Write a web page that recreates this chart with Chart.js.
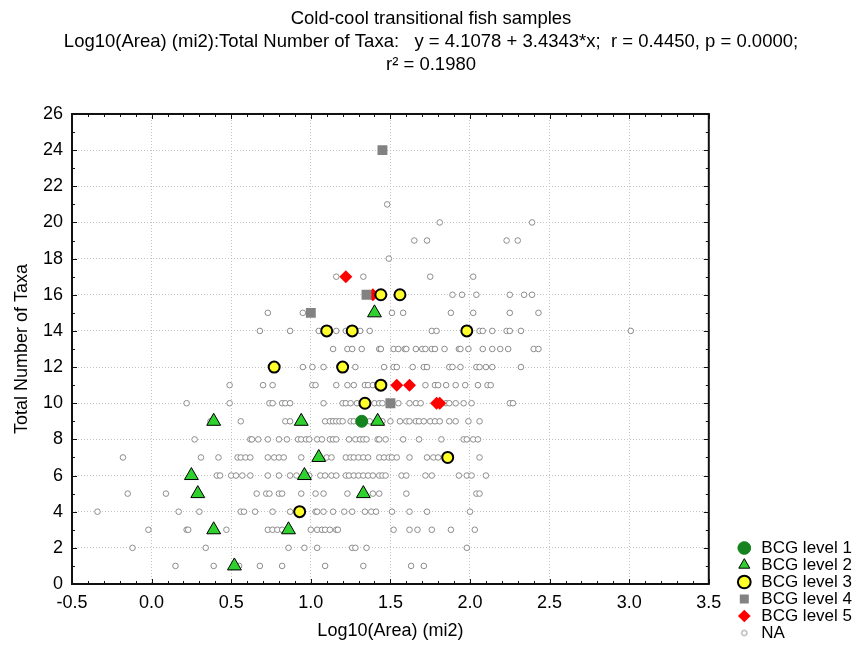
<!DOCTYPE html>
<html lang="en">
<head>
  <meta charset="UTF-8" />
  <title>Cold-cool transitional fish samples</title>
  <script src="https://cdn.jsdelivr.net/npm/chart.js"></script>
  <style>
    body { margin: 0; background: #fff; }
  </style>
</head>
<body>
  <canvas id="scatterChart" width="865" height="648"></canvas>

  <script>
    // BCG level samples: log10 area (mi2) and total number of taxa
    const bcg1Area = [1.32];
    const bcg1Taxa = [9];
    const bcg2Area = [0.39, 0.94, 1.42, 1.05, 0.25, 0.96, 0.29, 1.33, 0.39, 0.86, 0.52, 1.40];
    const bcg2Taxa = [9, 9, 9, 7, 6, 6, 5, 5, 3, 3, 1, 15];
    const bcg3Area = [1.10, 1.26, 1.98, 0.77, 1.20, 1.44, 1.56, 1.44, 1.34, 1.86, 0.93];
    const bcg3Taxa = [14, 14, 14, 12, 12, 16, 16, 11, 10, 7, 4];
    const bcg4Area = [1.45, 1.00, 1.35, 1.50];
    const bcg4Taxa = [24, 15, 16, 10];
    const bcg5Area = [1.22, 1.39, 1.54, 1.62, 1.79, 1.81];
    const bcg5Taxa = [17, 16, 11, 11, 10, 10];

    // NA samples, one list of log10 area per taxa count (index = taxa)
    const naRows = [
      [],
      [0.15, 0.39, 0.55, 0.68, 0.82, 1.09, 1.33, 1.63, 1.71],
      [-0.12, 0.34, 0.86, 0.96, 1.04, 1.26, 1.28, 1.35, 1.98],
      [-0.02, 0.22, 0.23, 0.47, 0.73, 0.76, 0.79, 0.82, 1.0, 1.04, 1.07, 1.09, 1.12, 1.16, 1.17, 1.52, 1.62, 1.67, 1.76, 1.88, 2.03],
      [-0.34, 0.17, 0.3, 0.56, 0.58, 0.65, 0.76, 0.87, 1.03, 1.04, 1.08, 1.14, 1.21, 1.26, 1.34, 1.38, 1.41, 1.51, 1.62, 1.73, 2.0],
      [-0.15, 0.09, 0.66, 0.72, 0.74, 0.8, 0.82, 0.94, 1.03, 1.08, 1.23, 1.39, 1.43, 1.6, 2.04, 2.06],
      [0.41, 0.43, 0.5, 0.53, 0.57, 0.62, 0.73, 0.8, 0.87, 0.91, 0.99, 1.06, 1.09, 1.13, 1.16, 1.22, 1.24, 1.27, 1.3, 1.33, 1.36, 1.39, 1.43, 1.45, 1.47, 1.57, 1.6, 1.72, 1.76, 1.93, 1.98, 2.01, 2.1],
      [-0.18, 0.31, 0.42, 0.54, 0.56, 0.59, 0.62, 0.73, 0.77, 0.8, 0.83, 0.94, 1.1, 1.13, 1.22, 1.25, 1.27, 1.3, 1.33, 1.36, 1.43, 1.46, 1.49, 1.51, 1.54, 1.62, 1.73, 1.77, 1.8, 2.06],
      [0.27, 0.62, 0.63, 0.67, 0.73, 0.8, 0.85, 0.92, 0.94, 0.97, 0.99, 1.04, 1.07, 1.12, 1.14, 1.16, 1.24, 1.28, 1.31, 1.33, 1.35, 1.42, 1.43, 1.47, 1.58, 1.68, 1.82, 1.96, 1.98, 2.02, 2.05],
      [0.37, 0.56, 0.84, 0.87, 1.09, 1.12, 1.14, 1.16, 1.18, 1.2, 1.25, 1.27, 1.37, 1.45, 1.5, 1.56, 1.6, 1.62, 1.66, 1.68, 1.71, 1.75, 1.78, 1.81, 1.87, 1.91, 1.99, 2.06],
      [0.22, 0.49, 0.74, 0.76, 0.82, 0.84, 0.87, 1.08, 1.2, 1.22, 1.25, 1.29, 1.4, 1.43, 1.45, 1.55, 1.62, 1.66, 1.69, 1.85, 1.87, 1.91, 1.96, 2.01, 2.25, 2.27],
      [0.49, 0.7, 0.76, 1.01, 1.03, 1.16, 1.23, 1.27, 1.34, 1.36, 1.39, 1.72, 1.78, 1.8, 1.85, 1.91, 1.97, 2.05, 2.11, 2.13],
      [0.95, 1.01, 1.08, 1.28, 1.46, 1.52, 1.54, 1.64, 1.71, 1.73, 1.87, 1.89, 1.94, 2.04, 2.06, 2.1, 2.14, 2.32],
      [1.14, 1.23, 1.26, 1.32, 1.43, 1.44, 1.52, 1.55, 1.59, 1.6, 1.66, 1.7, 1.72, 1.76, 1.78, 1.84, 1.93, 1.94, 1.99, 2.08, 2.14, 2.19, 2.24, 2.4, 2.43],
      [0.68, 0.87, 1.05, 1.16, 1.22, 1.31, 1.37, 1.76, 1.79, 2.06, 2.08, 2.14, 2.23, 2.25, 2.32, 3.01],
      [0.73, 0.95, 1.51, 1.58, 1.88, 2.02, 2.25, 2.43],
      [1.89, 1.95, 2.04, 2.25, 2.34, 2.39],
      [1.16, 1.33, 1.75, 2.02],
      [1.49],
      [1.65, 1.73, 2.23, 2.3],
      [1.81, 2.39],
      [1.48]
    ];

    const xTicks = [-0.5, 3.5, 0.5];
    const yTicks = [0, 26, 2];

    const titleLines = [
      'Cold-cool transitional fish samples',
      'Log10(Area) (mi2):Total Number of Taxa:   y = 4.1078 + 3.4343*x;  r = 0.4450, p = 0.0000;',
      'r\u00B2 = 0.1980'
    ];

    const pairs = (xs, ys) => xs.map((x, i) => ({ x, y: ys[i] }));
    const naPoints = [];
    naRows.forEach((row, taxa) => row.forEach(x => naPoints.push({ x, y: taxa })));

    Chart.defaults.font.family = "'Liberation Sans', Arial, sans-serif";
    Chart.defaults.color = '#000';

    // small legend icon for NA
    const naIcon = document.createElement('canvas');
    naIcon.width = 9; naIcon.height = 9;
    const g = naIcon.getContext('2d');
    g.beginPath();
    g.arc(4.5, 4.5, 2.7, 0, Math.PI * 2);
    g.fillStyle = '#fff';
    g.fill();
    g.strokeStyle = '#8c8c8c';
    g.lineWidth = 1;
    g.stroke();

    // box around plot with inward ticks
    const frame = {
      id: 'frame',
      afterDraw(chart) {
        const { ctx, chartArea: a, scales: { x, y } } = chart;
        ctx.save();
        ctx.strokeStyle = '#111';
        ctx.lineWidth = 1;
        ctx.beginPath();
        for (let i = -5; i <= 35; i++) {
          const px = Math.round(x.getPixelForValue(i / 10)) + 0.5;
          const len = i % 5 === 0 ? 5 : 3;
          ctx.moveTo(px, a.bottom); ctx.lineTo(px, a.bottom - len);
          ctx.moveTo(px, a.top); ctx.lineTo(px, a.top + len);
        }
        for (let v = 0; v <= 26; v++) {
          const py = Math.round(y.getPixelForValue(v)) + 0.5;
          const len = v % 2 === 0 ? 5 : 3;
          ctx.moveTo(a.left, py); ctx.lineTo(a.left + len, py);
          ctx.moveTo(a.right, py); ctx.lineTo(a.right - len, py);
        }
        ctx.stroke();
        ctx.lineWidth = 2;
        ctx.strokeRect(a.left, a.top, a.right - a.left, a.bottom - a.top);
        ctx.restore();
      }
    };

    const ctx = document.getElementById('scatterChart').getContext('2d');
    new Chart(ctx, {
      type: 'scatter',
      data: {
        datasets: [
          {
            label: 'BCG level 1', data: pairs(bcg1Area, bcg1Taxa),
            pointStyle: 'circle', pointRadius: 6,
            backgroundColor: '#14821e', borderColor: '#14821e', borderWidth: 1
          },
          {
            label: 'BCG level 2', data: pairs(bcg2Area, bcg2Taxa),
            pointStyle: 'triangle', pointRadius: 8,
            backgroundColor: '#2fd12f', borderColor: '#000', borderWidth: 1
          },
          {
            label: 'BCG level 3', data: pairs(bcg3Area, bcg3Taxa),
            pointStyle: 'circle', pointRadius: 5.5,
            backgroundColor: '#ffff2a', borderColor: '#000', borderWidth: 2
          },
          {
            label: 'BCG level 4', data: pairs(bcg4Area, bcg4Taxa),
            pointStyle: 'rect', pointRadius: 7,
            backgroundColor: '#828282', borderColor: '#828282', borderWidth: 0
          },
          {
            label: 'BCG level 5', data: pairs(bcg5Area, bcg5Taxa),
            pointStyle: 'rectRot', pointRadius: 6.5,
            backgroundColor: '#f00', borderColor: '#f00', borderWidth: 0
          },
          {
            label: 'NA', data: naPoints,
            pointStyle: 'circle', pointRadius: 2.8,
            backgroundColor: '#fff', borderColor: '#8c8c8c', borderWidth: 1
          }
        ]
      },
      options: {
        responsive: false,
        animation: false,
        layout: { padding: { top: 0, right: 3, bottom: 6.5, left: 0 } },
        plugins: {
          tooltip: { enabled: false },
          title: {
            display: true,
            text: titleLines,
            color: '#000',
            font: { size: 18.5, weight: 'normal', lineHeight: 1.243 },
            padding: { top: 7, bottom: 38 }
          },
          legend: {
            position: 'right',
            align: 'end',
            labels: {
              usePointStyle: true,
              boxWidth: 18,
              boxHeight: 9,
              padding: 0,
              color: '#000',
              font: { size: 17 },
              generateLabels(chart) {
                const items = Chart.defaults.plugins.legend.labels.generateLabels(chart);
                items[5].pointStyle = naIcon;
                return items;
              }
            }
          }
        },
        scales: {
          x: {
            type: 'linear',
            min: xTicks[0], max: xTicks[1],
            afterFit(s) { s.height = 57.5; },
            ticks: { stepSize: xTicks[2], padding: 8, font: { size: 18 }, callback: v => v.toFixed(1) },
            grid: { color: '#c4c4c4', drawTicks: false },
            border: { display: false, dash: [1, 2] },
            title: { display: true, text: 'Log10(Area) (mi2)', font: { size: 18 }, padding: { top: 0, bottom: 0 } }
          },
          y: {
            type: 'linear',
            min: yTicks[0], max: yTicks[1],
            afterFit(s) { s.width = 72; },
            ticks: { stepSize: yTicks[2], padding: 9, font: { size: 18 } },
            grid: { color: '#c4c4c4', drawTicks: false },
            border: { display: false, dash: [1, 2] },
            title: { display: true, text: 'Total Number of Taxa', font: { size: 18 }, padding: { top: 11, bottom: 0 } }
          },
          yR: {
            type: 'linear',
            position: 'right',
            axis: 'y',
            min: yTicks[0], max: yTicks[1],
            afterFit(s) { s.width = 27; },
            ticks: { display: false },
            grid: { display: false, drawTicks: false },
            border: { display: false }
          }
        }
      },
      plugins: [frame]
    });
  </script>
</body>
</html>
